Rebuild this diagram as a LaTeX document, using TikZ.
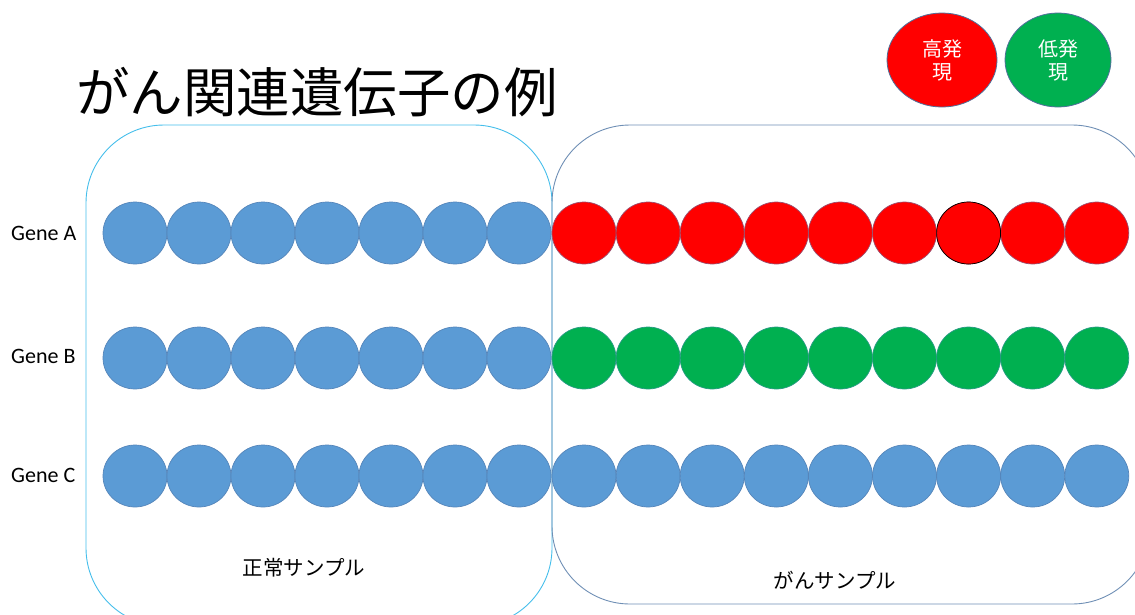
\documentclass[tikz,border=0pt]{standalone}
\usepackage{fontspec}
\newfontfamily\jpfont{Noto Sans CJK JP}
\newfontfamily\calfont{Carlito}
\usetikzlibrary{shapes.geometric}
\definecolor{cblue}{HTML}{5B9BD5}
\definecolor{cblueline}{HTML}{5585BA}
\definecolor{cred}{HTML}{FF0000}
\definecolor{cgreen}{HTML}{00B050}
\definecolor{leftbox}{HTML}{45BEEB}
\definecolor{rightbox}{HTML}{6F8FB5}
\definecolor{legline}{HTML}{4F6F9A}
\tikzset{
  dot/.style={ellipse, inner sep=0pt, minimum width=64pt, minimum height=62pt, line width=0.7pt},
  bluedot/.style={dot, fill=cblue, draw=cblueline},
  reddot/.style={dot, fill=cred, draw=cblueline!60!cred},
  greendot/.style={dot, fill=cgreen, draw=cblueline!50!cgreen},
  genelabel/.style={font=\calfont\fontsize{22}{26}\selectfont, anchor=west, inner sep=0pt},
  sample/.style={font=\jpfont\fontsize{20.5}{24}\selectfont, inner sep=0pt},
  legend/.style={ellipse, inner sep=0pt, draw=legline, line width=0.8pt, text=white, font=\jpfont\fontsize{20}{23}\selectfont, align=center},
  sbox/.style={rounded corners=78pt, line width=0.9pt}
}
\begin{document}
\begin{tikzpicture}[x=1pt,y=-1pt]
\useasboundingbox (0,0) rectangle (1135,614);
\clip (0,0) rectangle (1135,614);
% title
\node[font=\jpfont\fontsize{53.5}{58}\selectfont, anchor=west, inner sep=0pt] (title) at (76,92) {がん関連遺伝子の例};
% legend
\node[legend, fill=cred, minimum width=110pt, minimum height=94pt] (hi) at (942,60) {高発\\現};
\node[legend, fill=cgreen, minimum width=106pt, minimum height=94pt] (lo) at (1058,60) {低発\\現};
% sample boxes
\draw[sbox, draw=leftbox] (86,125) rectangle (552,626);
\draw[sbox, draw=rightbox] (552,125) rectangle (1150,604);
% gene labels
\node[genelabel] (ga) at (11,233) {Gene A};
\node[genelabel] (gb) at (11,356) {Gene B};
\node[genelabel] (gc) at (11,475) {Gene C};
% circles
\foreach \i in {0,...,6} {
  \node[bluedot] (a\i) at (135+64*\i,233) {};
  \node[bluedot] (b\i) at (135+64*\i,358) {};
  \node[bluedot] (c\i) at (135+64*\i,476) {};
}
\foreach \j in {0,...,8} {
  \node[reddot] (ra\j) at (584+64.1*\j,233) {};
  \node[greendot] (rb\j) at (584+64.1*\j,358) {};
  \node[bluedot] (rc\j) at (584+64.1*\j,476) {};
}
\node[dot, fill=cred, draw=black] (ra6b) at (ra6) {};
% sample labels
\node[sample] (normal) at (304,568) {正常サンプル};
\node[sample] (cancer) at (835,580) {がんサンプル};
\end{tikzpicture}
\end{document}
